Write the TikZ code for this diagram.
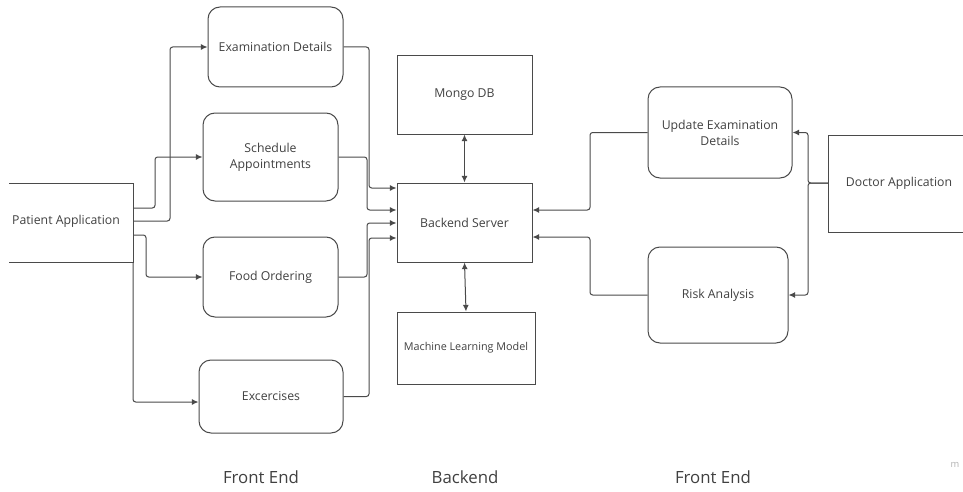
\documentclass[tikz,border=0pt]{standalone}
\usepackage{fontspec}
\setmainfont{Open Sans}
\usetikzlibrary{arrows.meta}
\definecolor{ln}{HTML}{4A4A4A}
\definecolor{tx}{HTML}{404040}
\tikzset{
  box/.style={draw=ln, line width=0.75pt, inner sep=0pt, font=\fontsize{9.2}{12}\selectfont, text=tx, align=center},
  rbox/.style={box, rounded corners=9pt},
  conn/.style={draw=ln, line width=0.75pt, rounded corners=2pt, -{Latex[length=5pt,width=4.5pt]}},
  biconn/.style={draw=ln, line width=0.75pt, {Latex[length=5pt,width=4.5pt]}-{Latex[length=5pt,width=4.5pt]}},
  plain/.style={draw=ln, line width=0.75pt, rounded corners=2pt},
  lbl/.style={font=\fontsize{12.6}{15}\selectfont, text=tx}
}
\begin{document}
\begin{tikzpicture}[x=0.75pt,y=-0.75pt]
\useasboundingbox (0,0) rectangle (963,492);

% Patient application (open on the left)
\draw[plain, rounded corners=0pt] (9,183) -- (133,183) -- (133,262) -- (9,262);
\node[box, draw=none] (pat) at (66,221) {Patient Application};
\coordinate (patR) at (133,221);

% left front end boxes
\node[rbox, minimum width=135*0.75pt, minimum height=80*0.75pt] (exam) at (275.5,47) {Examination Details};
\node[rbox, minimum width=135*0.75pt, minimum height=88*0.75pt] (sched) at (270.5,157) {Schedule\\Appointments};
\node[rbox, minimum width=135*0.75pt, minimum height=80*0.75pt] (food) at (270.5,277) {Food Ordering};
\node[rbox, minimum width=144*0.75pt, minimum height=73*0.75pt] (exer) at (271,396.5) {Excercises};

% backend boxes
\node[box, minimum width=135*0.75pt, minimum height=78*0.75pt] (mongo) at (464.5,95) {Mongo DB};
\node[box, minimum width=135*0.75pt, minimum height=79*0.75pt] (server) at (464.5,222.5) {Backend Server};
\node[box, minimum width=138*0.75pt, minimum height=72*0.75pt, font=\fontsize{8.1}{10}\selectfont] (ml) at (466,348) {Machine Learning Model};

% right front end boxes
\node[rbox, minimum width=144*0.75pt, minimum height=91*0.75pt] (upd) at (720,132.5) {Update Examination\\Details};
\node[rbox, minimum width=140*0.75pt, minimum height=96*0.75pt] (risk) at (718,295) {Risk Analysis};

% Doctor application (open on the right)
\draw[plain, rounded corners=0pt] (963,135) -- (828,135) -- (828,232) -- (963,232);
\node[box, draw=none] (doc) at (899,183) {Doctor Application};

% labels
\node[lbl] (fe1) at (261,477) {Front End};
\node[lbl] (be) at (465,477) {Backend};
\node[lbl] (fe2) at (713,477) {Front End};
\node[font=\fontsize{7}{8}\selectfont, text=black!30] (wm) at (955,465) {m};

% patient -> front end boxes
\draw[conn] (133,208) -- (155,208) -- (155,157) -- (sched.west);
\draw[conn] (133,221) -- (170,221) -- (170,47) -- (exam.west);
\draw[conn] (133,235) -- (146,235) -- (146,277) -- (food.west);
\draw[conn] (133,262) -- (133,402) -- (exer.west |- 0,402);

% front end boxes -> server
\draw[conn] (exam.east) -- (369,47) -- (369,188) -- (server.west |- 0,188);
\draw[conn] (sched.east) -- (367,157) -- (367,210) -- (server.west |- 0,210);
\draw[conn] (food.east) -- (367,277) -- (367,223) -- (server.west |- 0,223);
\draw[conn] (exer.east) -- (369,396.5) -- (369,238) -- (server.west |- 0,238);

% backend links
\draw[biconn] (mongo.south) -- (server.north);
\draw[biconn] (server.south) -- (ml.north);

% right side -> server
\draw[conn] (upd.west) -- (590,132.5) -- (590,210) -- (server.east |- 0,210);
\draw[conn] (risk.west) -- (590,295) -- (590,237) -- (server.east |- 0,237);

% doctor -> right boxes
\draw[conn] (828,183) -- (808,183) -- (808,132.5) -- (upd.east);
\draw[conn] (828,183) -- (808,183) -- (808,295) -- (risk.east);
\end{tikzpicture}
\end{document}
